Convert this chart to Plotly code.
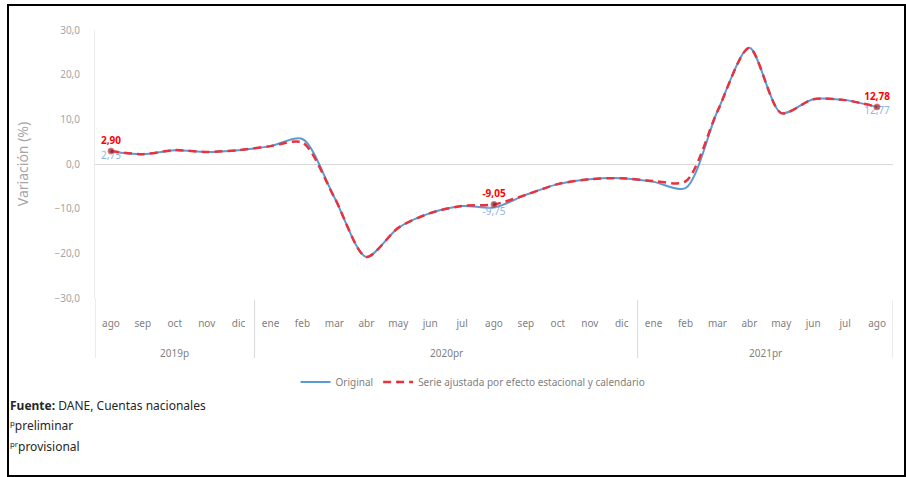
import plotly.graph_objects as go

years = ["2019p"] * 5 + ["2020pr"] * 12 + ["2021pr"] * 8
months = ["ago", "sep", "oct", "nov", "dic",
          "ene", "feb", "mar", "abr", "may", "jun", "jul", "ago", "sep", "oct", "nov", "dic",
          "ene", "feb", "mar", "abr", "may", "jun", "jul", "ago"]
original = [2.75, 2.2, 3.1, 2.7, 3.1, 4.0, 5.6, -7.5, -20.8, -14.3, -11.0, -9.4, -9.75,
            -6.9, -4.5, -3.4, -3.2, -4.0, -5.4, 11.8, 26.0, 11.4, 14.5, 14.3, 12.77]
ajustada = [2.90, 2.2, 3.1, 2.7, 3.1, 4.0, 4.8, -7.5, -20.8, -14.3, -11.0, -9.4, -9.05,
            -6.9, -4.5, -3.4, -3.2, -3.8, -3.9, 11.8, 26.0, 11.4, 14.5, 14.3, 12.78]
labeled_idx = [0, 12, 24]

def fmt(v):
    return f"{v:.2f}".replace(".", ",")

FONT = "Noto Sans"
BLUE = "#5B9BD5"
RED = "#E8323C"

xi = list(range(len(months)))
orig_text = [fmt(v) if i in labeled_idx else "" for i, v in enumerate(original)]
adj_text = [fmt(v) if i in labeled_idx else "" for i, v in enumerate(ajustada)]
adj_sizes = [6 if i in labeled_idx else 0 for i in xi]

fig = go.Figure()
fig.add_trace(go.Scatter(
    x=xi, y=original, name="Original", mode="lines+text",
    line=dict(color=BLUE, width=2, shape="spline", smoothing=0.8),
    text=orig_text, textposition="bottom center",
    textfont=dict(color="#8DB4E2", size=10, family=FONT),
))
fig.add_trace(go.Scatter(
    x=xi, y=ajustada, name="Serie ajustada por efecto estacional y calendario",
    mode="lines+markers+text",
    line=dict(color=RED, width=2.5, dash="8px,5px", shape="spline", smoothing=0.8),
    marker=dict(size=adj_sizes, color="#7A1F2B"),
    text=adj_text, textposition="top center",
    textfont=dict(color="#FF0000", size=10, family=FONT, weight="bold"),
))

L, R, T, B = 95, 893, 30, 298
W, H = R - L, B - T

def px(xp):
    return (xp - L) / W

def py(yp):
    return (B - yp) / H

fig.update_layout(
    width=906, height=477,
    margin=dict(l=L, r=906 - R, t=T, b=477 - B),
    paper_bgcolor="white", plot_bgcolor="white",
    separators=",.",
    font=dict(family=FONT, color="#7F7F7F"),
    showlegend=True,
    legend=dict(orientation="h", x=px(473), xanchor="center", y=py(382), yanchor="middle",
                font=dict(size=10, color="#7F7F7F"), bgcolor="rgba(0,0,0,0)"),
    xaxis=dict(range=[-0.5, len(months) - 0.5], showgrid=False, zeroline=False,
               showline=False, tickmode="array", tickvals=xi, ticktext=months,
               ticklabelstandoff=18,
               tickfont=dict(size=10, color="#7F7F7F")),
    yaxis=dict(range=[-30, 30], dtick=10, tickformat=".1f", showgrid=False,
               zeroline=True, zerolinecolor="#D9D9D9", zerolinewidth=1,
               showline=True, linecolor="#EBEBEB", linewidth=1,
               ticklabelstandoff=12,
               tickfont=dict(size=10, color="#A6A6A6"),
               title=dict(text="Variación (%)", font=dict(size=14, color="#A6A6A6"), standoff=22)),
)

# year groups: dividers and centered group labels, derived from the years list
groups = []
for i, yv in enumerate(years):
    if not groups or groups[-1][0] != yv:
        groups.append([yv, i, i])
    else:
        groups[-1][2] = i
bounds = sorted({g[1] - 0.5 for g in groups} | {g[2] + 0.5 for g in groups})
for bx in bounds:
    fig.add_shape(type="line", xref="x", yref="paper", x0=bx, x1=bx,
                  y0=0 if bx == bounds[0] else py(300), y1=py(358),
                  line=dict(color="#D9D9D9", width=1))
for name, a, b in groups:
    fig.add_annotation(text=name, xref="x", yref="paper", x=(a + b) / 2, y=py(353),
                       xanchor="center", yanchor="middle", showarrow=False,
                       font=dict(size=10, color="#7F7F7F", family=FONT))

foot = [("<b>Fuente:</b> DANE, Cuentas nacionales", 405),
        ("ᵖpreliminar", 425),
        ("ᵖʳprovisional", 446)]
for txt, yp in foot:
    fig.add_annotation(text=txt, xref="paper", yref="paper", x=px(8), y=py(yp),
                       xanchor="left", yanchor="middle", showarrow=False,
                       font=dict(size=12, color="#262626", family=FONT))

fig.add_shape(type="rect", xref="paper", yref="paper",
              x0=px(8), x1=px(905), y0=py(476), y1=py(5),
              line=dict(color="black", width=2), fillcolor="rgba(0,0,0,0)")

fig.write_html("out.html")
